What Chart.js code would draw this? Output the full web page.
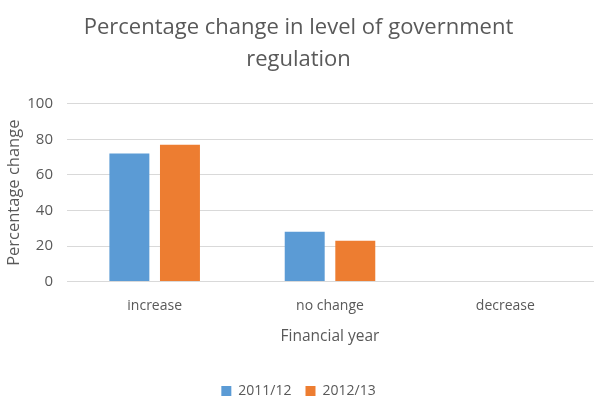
<!DOCTYPE html>
<html>
<head>
<meta charset="utf-8">
<script src="https://cdn.jsdelivr.net/npm/chart.js@4"></script>
<style>
  html, body { margin: 0; padding: 0; background: #fff; }
  #wrap { width: 600px; height: 408px; }
</style>
</head>
<body>
<div id="wrap"><canvas id="chart"></canvas></div>
<script>
// Data
const categories = ['increase', 'no change', 'decrease'];
const seriesNames = ['2011/12', '2012/13'];
const values2011 = [72, 28, 0];
const values2012 = [77, 23, 0];
const yTicks = [0, 20, 40, 60, 80, 100];

const textColor = '#595959';
const font = "'Open Sans', sans-serif";

new Chart(document.getElementById('chart'), {
  type: 'bar',
  data: {
    labels: categories,
    datasets: [{
      label: seriesNames[0],
      data: values2011,
      backgroundColor: '#5B9BD5'
    }, {
      label: seriesNames[1],
      data: values2012,
      backgroundColor: '#ED7D31'
    }]
  },
  options: {
    responsive: true,
    maintainAspectRatio: false,
    animation: false,
    layout: { padding: { left: 4, right: 7, top: 12, bottom: 0 } },
    datasets: {
      bar: { categoryPercentage: 0.577, barPercentage: 0.79 }
    },
    plugins: {
      title: {
        display: true,
        text: ['Percentage change in level of government', 'regulation'],
        color: textColor,
        font: { family: font, size: 22, weight: 'normal', lineHeight: 1.45 },
        padding: { top: 0, bottom: 28 }
      },
      legend: {
        display: true,
        position: 'bottom',
        labels: {
          color: textColor,
          font: { family: font, size: 14 },
          boxWidth: 10,
          boxHeight: 10,
          padding: 14
        }
      },
      tooltip: { enabled: false }
    },
    scales: {
      x: {
        grid: { display: false },
        border: { color: '#D9D9D9' },
        ticks: { color: textColor, font: { family: font, size: 14 }, padding: 8 },
        title: {
          display: true,
          text: 'Financial year',
          color: textColor,
          font: { family: font, size: 15.5 },
          padding: { top: 5, bottom: 24 }
        }
      },
      y: {
        min: 0,
        max: 100,
        afterBuildTicks: axis => { axis.ticks = yTicks.map(v => ({ value: v })); },
        afterFit: axis => { axis.width = 63; },
        grid: { color: '#D9D9D9', drawTicks: false },
        border: { display: false },
        ticks: { color: textColor, font: { family: font, size: 15 }, padding: 14 },
        title: {
          display: true,
          text: 'Percentage change',
          color: textColor,
          font: { family: font, size: 16.5 },
          padding: { top: 0, bottom: 2 }
        }
      }
    }
  }
});
</script>
</body>
</html>
